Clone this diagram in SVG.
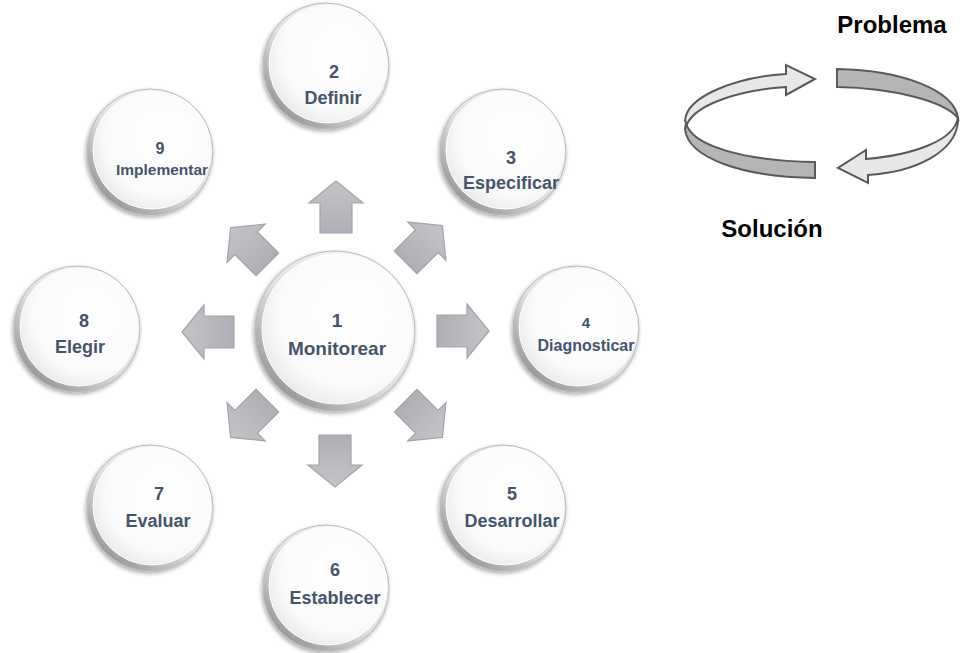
<svg xmlns="http://www.w3.org/2000/svg" width="963" height="653" viewBox="0 0 963 653">
<defs>
  <linearGradient id="rim" x1="0.85" y1="0.1" x2="0.15" y2="0.9">
    <stop offset="0" stop-color="#f7f7f7"/>
    <stop offset="0.55" stop-color="#e0e0e0"/>
    <stop offset="1" stop-color="#969696"/>
  </linearGradient>
  <radialGradient id="face" cx="0.6" cy="0.4" r="0.65">
    <stop offset="0" stop-color="#ffffff"/>
    <stop offset="0.75" stop-color="#fbfbfb"/>
    <stop offset="1" stop-color="#e9e9e9"/>
  </radialGradient>
  <linearGradient id="arr" x1="0" y1="0" x2="0" y2="1">
    <stop offset="0" stop-color="#c3c5c9"/>
    <stop offset="1" stop-color="#adafb4"/>
  </linearGradient>
  <filter id="sh" x="-20%" y="-20%" width="140%" height="140%">
    <feGaussianBlur in="SourceAlpha" stdDeviation="2"/>
    <feOffset dx="-1" dy="2" result="b"/>
    <feComponentTransfer><feFuncA type="linear" slope="0.35"/></feComponentTransfer>
    <feMerge><feMergeNode/><feMergeNode in="SourceGraphic"/></feMerge>
  </filter>
  <polygon id="ar" points="0,-26 27,-4 16,-4 16,26 -16,26 -16,-4 -27,-4"/>
  <style>
    .rim{fill:url(#rim);stroke:#b9b9b9;stroke-width:1;filter:url(#sh)}
    .face{fill:url(#face);stroke:#ffffff;stroke-width:1}
    .t{font-family:"Liberation Sans",Arial,sans-serif;font-weight:bold;fill:#45546b;text-anchor:middle}
    .a{fill:url(#arr);stroke:#a2a4a8;stroke-width:1.2}
    .lp{fill:#e8e8e8;stroke:#595959;stroke-width:2;stroke-linejoin:miter}
    .dk{fill:#b5b5b5;stroke:#595959;stroke-width:2}
    .lbl{font-family:"Liberation Sans",Arial,sans-serif;font-weight:bold;fill:#000;font-size:24px;text-anchor:middle}
  </style>
</defs>
<rect width="963" height="653" fill="#ffffff"/>

<g id="connectors">
  <use href="#ar" class="a" transform="translate(336,207)"/>
  <use href="#ar" class="a" transform="translate(463,331) rotate(90)"/>
  <use href="#ar" class="a" transform="translate(335,461) rotate(180)"/>
  <use href="#ar" class="a" transform="translate(208,332) rotate(270)"/>
  <use href="#ar" class="a" transform="translate(424,244) rotate(45)"/>
  <use href="#ar" class="a" transform="translate(424,419) rotate(135)"/>
  <use href="#ar" class="a" transform="translate(249,419) rotate(225)"/>
  <use href="#ar" class="a" transform="translate(249,246) rotate(315)"/>
</g>

<g id="n1">
  <circle class="rim" cx="335" cy="331" r="80"/>
  <circle class="face" cx="337" cy="329" r="75"/>
  <text class="t" x="337" y="327" font-size="19">1</text>
  <text class="t" x="337" y="355" font-size="19">Monitorear</text>
</g>
<g id="n2">
  <circle class="rim" cx="326" cy="66" r="63"/>
  <circle class="face" cx="328" cy="64" r="59"/>
  <text class="t" x="334" y="78" font-size="18">2</text>
  <text class="t" x="333" y="104" font-size="18">Definir</text>
</g>
<g id="n3">
  <circle class="rim" cx="503" cy="152" r="63"/>
  <circle class="face" cx="505" cy="150" r="59"/>
  <text class="t" x="511" y="164" font-size="18">3</text>
  <text class="t" x="511" y="189" font-size="18">Especificar</text>
</g>
<g id="n4">
  <circle class="rim" cx="576" cy="329" r="63"/>
  <circle class="face" cx="578" cy="327" r="59"/>
  <text class="t" x="586" y="328" font-size="15">4</text>
  <text class="t" x="586" y="351" font-size="16">Diagnosticar</text>
</g>
<g id="n5">
  <circle class="rim" cx="503" cy="508" r="63"/>
  <circle class="face" cx="505" cy="506" r="59"/>
  <text class="t" x="512" y="500" font-size="18">5</text>
  <text class="t" x="512" y="527" font-size="18">Desarrollar</text>
</g>
<g id="n6">
  <circle class="rim" cx="326" cy="588" r="63"/>
  <circle class="face" cx="328" cy="586" r="59"/>
  <text class="t" x="335" y="576" font-size="18">6</text>
  <text class="t" x="335" y="604" font-size="18">Establecer</text>
</g>
<g id="n7">
  <circle class="rim" cx="150" cy="508" r="63"/>
  <circle class="face" cx="152" cy="506" r="59"/>
  <text class="t" x="159" y="500" font-size="18">7</text>
  <text class="t" x="158" y="527" font-size="18">Evaluar</text>
</g>
<g id="n8">
  <circle class="rim" cx="77" cy="329" r="63"/>
  <circle class="face" cx="79" cy="327" r="59"/>
  <text class="t" x="84" y="327" font-size="18">8</text>
  <text class="t" x="80" y="353" font-size="18">Elegir</text>
</g>
<g id="n9">
  <circle class="rim" cx="150" cy="152" r="63"/>
  <circle class="face" cx="152" cy="150" r="59"/>
  <text class="t" x="160" y="154" font-size="16">9</text>
  <text class="t" x="162" y="175" font-size="15.5">Implementar</text>
</g>

<g id="cycle">
  <path class="dk" d="M686,123 C692,147 748,161 815,162 L815,178 C742,177 688,158 685,129 Z"/>
  <path class="lp" d="M685,121 C686,96 737,77 786,74 L786,65 L815,79 L786,95 L786,87 C742,90 697,103 687,124 Z"/>
  <path class="dk" d="M837,69 C902,70 954,90 958,118 C944,101 893,88 837,87 Z"/>
  <path class="lp" d="M958,117 C955,141 912,155 866,159 L866,150 L838,168 L868,183 L868,175 C916,172 955,152 958,122 Z"/>
  <text class="lbl" x="892" y="33">Problema</text>
  <text class="lbl" x="772" y="237">Solución</text>
</g>
</svg>
